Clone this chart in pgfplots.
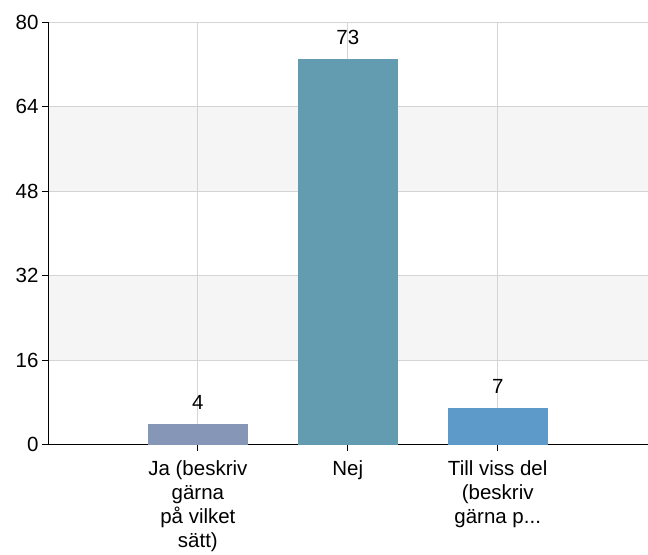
\documentclass[border=0pt]{standalone}
\usepackage{pgfplots}
\pgfplotsset{compat=1.18}
\usepackage{fontspec}
\setmainfont{Liberation Sans}
\definecolor{barA}{RGB}{134,150,182}
\definecolor{barB}{RGB}{99,156,177}
\definecolor{barC}{RGB}{94,154,201}
\definecolor{band}{RGB}{245,245,245}
\definecolor{gridc}{RGB}{212,212,212}
\begin{document}
\begin{tikzpicture}
\begin{axis}[
  set layers,
  scale only axis,
  width=600bp, height=423bp,
  xmin=-1, xmax=3, ymin=0, ymax=80,
  ytick={0,16,32,48,64,80},
  xtick={0,1,2},
  xticklabels={{Ja (beskriv\\gärna\\på vilket\\sätt)},{Nej},{Till viss del\\(beskriv\\gärna p.{}.{}.}},
  xticklabel style={align=center, font=\fontsize{20.5bp}{24bp}\selectfont, yshift=-6bp},
  yticklabel style={font=\fontsize{20.5bp}{24bp}\selectfont},
  /pgf/number format/assume math mode=true,
  axis lines*=left,
  axis line style={black, line width=0.8pt},
  tick align=outside,
  major tick length=6bp,
  tick style={black, line width=0.8pt},
  grid=major,
  major grid style={gridc, line width=0.8pt},
  ybar, bar width=100bp, bar shift=0pt,
  nodes near coords,
  nodes near coords style={font=\fontsize{20.5bp}{24bp}\selectfont, black, yshift=11bp},
  clip=false,
]
\begin{pgfonlayer}{axis background}
\fill[band] (axis cs:-1,16) rectangle (axis cs:3,32);
\fill[band] (axis cs:-1,48) rectangle (axis cs:3,64);
\end{pgfonlayer}
\addplot[fill=barA, draw=none] coordinates {(0,4)};
\addplot[fill=barB, draw=none] coordinates {(1,73)};
\addplot[fill=barC, draw=none] coordinates {(2,7)};
\end{axis}
\useasboundingbox (-48bp,-108bp) rectangle (600bp,445bp);
\end{tikzpicture}
\end{document}
